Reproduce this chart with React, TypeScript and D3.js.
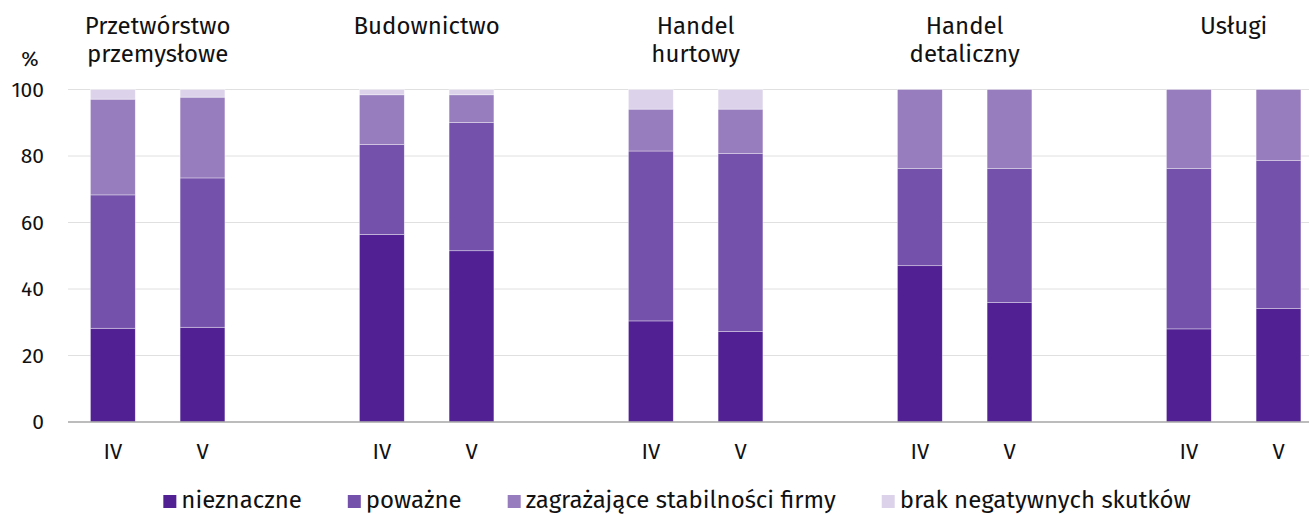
import { useRef, useEffect } from 'react';
import * as d3 from 'd3';

const W = 1309, H = 515;
const FONT = '"Fira Sans", "Open Sans", sans-serif';
const FS = 21;   // axis ticks
const FS_BIG = 24; // headings, legend

const GROUPS = ['Przetwórstwo przemysłowe', 'Budownictwo', 'Handel hurtowy', 'Handel detaliczny', 'Usługi'];
// Two-line headings as drawn above each group
const GROUP_LINES = [['Przetwórstwo', 'przemysłowe'], ['Budownictwo'], ['Handel', 'hurtowy'], ['Handel', 'detaliczny'], ['Usługi']];
const PERIODS = ['IV', 'V'];
const KEYS = ['nieznaczne', 'poważne', 'zagrażające stabilności firmy', 'brak negatywnych skutków'];
const COLORS = ['#512194', '#7451ab', '#977dbe', '#dcd3ea'];
const Y_TICKS = [0, 20, 40, 60, 80, 100];

// share of firms, % — [IV, V] per group
const NIEZNACZNE = [[28.2, 28.5], [56.4, 51.5], [30.4, 27.2], [47.0, 35.9], [28.0, 34.1]];
const POWAZNE = [[40.1, 44.9], [27.1, 38.6], [51.1, 53.5], [29.2, 40.3], [48.2, 44.5]];
const ZAGRAZAJACE = [[28.8, 24.3], [14.9, 8.3], [12.6, 13.4], [23.8, 23.8], [23.8, 21.4]];
const BRAK = [[2.9, 2.3], [1.6, 1.6], [5.9, 5.9], [0, 0], [0, 0]];

export default function App() {
  const ref = useRef<SVGSVGElement>(null);

  useEffect(() => {
    const svg = d3.select(ref.current);
    svg.selectAll('*').remove();

    const left = 68, groupStep = 269;
    const xg = d3.scaleBand<string>().domain(GROUPS).range([left, left + groupStep * GROUPS.length]);
    const xp = d3.scaleBand<string>().domain([...PERIODS, '_']).range([0, xg.bandwidth()]);
    const bw = xp.bandwidth() * 0.5;
    const y = d3.scaleLinear().domain([0, 100]).range([422, 89.5]);

    // grid
    svg.append('g').selectAll('line').data(Y_TICKS.filter(d => d > 0)).join('line')
      .attr('x1', left).attr('x2', W).attr('y1', d => y(d)).attr('y2', d => y(d))
      .attr('stroke', '#e0e0e0').attr('stroke-width', 1);
    svg.append('g').selectAll('text').data(Y_TICKS).join('text')
      .attr('x', 44).attr('y', d => y(d)).attr('dy', '0.35em').attr('text-anchor', 'end')
      .attr('font-size', FS).attr('fill', '#111').text(d => d);
    svg.append('text').attr('x', 30).attr('y', 66).attr('text-anchor', 'middle')
      .attr('font-size', FS).attr('fill', '#111').text('%');

    // stacked bars
    const rows = GROUPS.flatMap((g, gi) => PERIODS.map((p, pi) => ({
      g, p, v: [NIEZNACZNE[gi][pi], POWAZNE[gi][pi], ZAGRAZAJACE[gi][pi], BRAK[gi][pi]],
    })));
    const bars = svg.append('g');
    rows.forEach(r => {
      const x0 = (xg(r.g) ?? 0) + (xp(r.p) ?? 0) + (xp.bandwidth() - bw) / 2;
      let acc = 0;
      r.v.forEach((v, k) => {
        if (v <= 0) return;
        bars.append('rect').attr('x', x0).attr('width', bw)
          .attr('y', y(acc + v)).attr('height', y(acc) - y(acc + v))
          .attr('fill', COLORS[k]).attr('stroke', '#fff').attr('stroke-width', 0.6).attr('stroke-opacity', 0.6);
        acc += v;
      });
    });

    // baseline
    svg.append('line').attr('x1', left).attr('x2', W).attr('y1', y(0)).attr('y2', y(0))
      .attr('stroke', '#a6a6a6').attr('stroke-width', 1.5);

    // period labels
    svg.append('g').selectAll('text').data(rows).join('text')
      .attr('x', d => (xg(d.g) ?? 0) + (xp(d.p) ?? 0) + xp.bandwidth() / 2).attr('y', 459)
      .attr('text-anchor', 'middle').attr('font-size', 22).attr('fill', '#111').text(d => d.p);

    // group headings
    GROUPS.forEach((g, gi) => {
      const cx = (xg(g) ?? 0) + (xp('V') ?? 0);
      const t = svg.append('text').attr('text-anchor', 'middle').attr('font-size', FS_BIG).attr('fill', '#111');
      GROUP_LINES[gi].forEach((line, li) => {
        t.append('tspan').attr('x', cx).attr('y', 34 + li * 28).text(line);
      });
    });

    // legend, centred
    const lg = svg.append('g');
    const items = KEYS.map((k, i) => {
      const it = lg.append('g');
      it.append('rect').attr('width', 13).attr('height', 13).attr('y', 495).attr('fill', COLORS[i]);
      const t = it.append('text').attr('x', 18).attr('y', 508).attr('font-size', FS_BIG).attr('fill', '#111').text(k);
      const w = 18 + (t.node() as SVGTextElement).getComputedTextLength();
      return { it, w };
    });
    const gap = 46;
    const total = d3.sum(items, d => d.w) + gap * (items.length - 1);
    let cx = 677 - total / 2;
    items.forEach(d => { d.it.attr('transform', `translate(${cx},0)`); cx += d.w + gap; });
  }, []);

  return (
    <svg ref={ref} width={W} height={H} viewBox={`0 0 ${W} ${H}`}
      style={{ position: 'absolute', left: 0, top: 0, fontFamily: FONT, background: '#fff' }} />
  );
}
